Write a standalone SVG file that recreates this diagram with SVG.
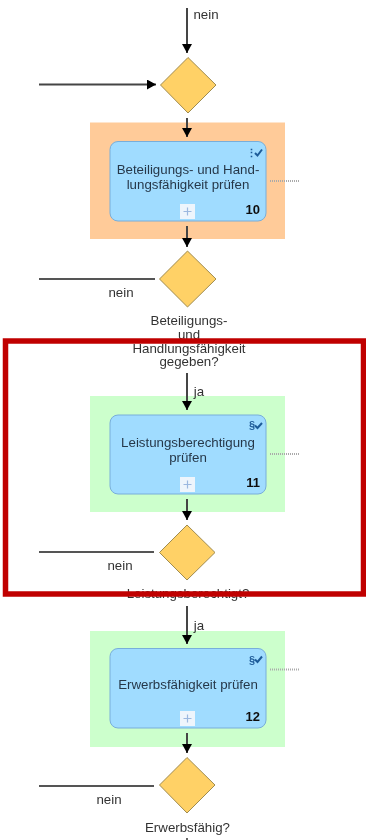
<svg xmlns="http://www.w3.org/2000/svg" width="366" height="840" viewBox="0 0 366 840">
<style>
text{font-family:"Liberation Sans",Arial,sans-serif;font-size:13.300px;fill:#333;text-anchor:middle}
.t{fill:#26384a}
.n{font-weight:bold;font-size:13px;fill:#111;text-anchor:end}
.c{fill:none;stroke:#444;stroke-width:2;marker-end:url(#a)}
.l{fill:none;stroke:#555;stroke-width:1.800}
.d{fill:#ffd166;stroke:#a08c50;stroke-width:1}
.task{fill:#a0dcff;stroke:#78aeda;stroke-width:1}
.o{fill:#ffcb99}.g{fill:#ccffcc}
.p{fill:#eef5fc}
.pl{stroke:#9cb8e0;stroke-width:1.200;fill:none}
.dots{stroke:#aaa;stroke-width:1.800;stroke-dasharray:1 1;fill:none}
.i{fill:#1f5c99;font-size:11px;font-weight:bold}
.ck{fill:none;stroke:#1f5c99;stroke-width:2}
</style>
<defs>
<marker id="a" markerUnits="userSpaceOnUse" markerWidth="10" markerHeight="10" refX="9" refY="5" orient="auto"><path d="M0,0L9,5L0,10Z" fill="#000"/></marker>
<filter id="b" x="0" y="0" width="100%" height="100%"><feGaussianBlur stdDeviation="0.45"/></filter>
</defs>
<g filter="url(#b)">
<rect width="366" height="840" fill="#fff"/>
<g id="lane-10"><rect class="o" x="90" y="122.500" width="195" height="116.500"/></g>
<g id="lane-11"><rect class="g" x="90" y="396" width="195" height="116"/></g>
<g id="lane-12"><rect class="g" x="90" y="631" width="195" height="116"/></g>
<g id="connectors">
<path class="c" d="M187 8V53"/>
<path class="c" d="M39 84.500H156"/>
<path class="c" d="M187 118V137"/>
<path class="c" d="M187 226V247"/>
<path class="l" d="M39 279H155"/>
<path class="c" d="M187 373V410"/>
<path class="c" d="M187 499V520"/>
<path class="l" d="M39 552H154"/>
<path class="c" d="M187 606V644"/>
<path class="c" d="M187 733V753"/>
<path class="l" d="M39 786H154"/>
<path class="l" d="M187 838V840"/>
<path class="dots" d="M270 181H300M270 454H300M270 669.500H300"/>
</g>
<g id="labels">
<text x="206" y="19">nein</text>
<text x="121" y="297">nein</text>
<text x="199" y="396">ja</text>
<text x="120" y="570">nein</text>
<text x="199" y="630">ja</text>
<text x="109" y="804">nein</text>
</g>
<g id="gw1"><path class="d" d="M188 57.500L216 85L188 113L160.500 85Z"/></g>
<g id="task10">
<rect class="task" x="110" y="141.500" width="156" height="79.500" rx="8"/>
<text class="t"><tspan x="188" y="174">Beteiligungs- und Hand-</tspan><tspan x="188" y="189">lungsfähigkeit prüfen</tspan></text>
<text class="i" x="251" y="157">⋮</text><path class="ck" d="M255 153L257.500 155.500L262 149.500"/>
<rect class="p" x="180" y="204" width="15" height="15"/><path class="pl" d="M187.500 207.500V215.500M183.500 211.500H191.500"/>
<text class="n" x="260" y="214">10</text>
</g>
<g id="gw2">
<path class="d" d="M187.500 251L216 279L187.500 307L159.500 279Z"/>
<text><tspan x="189" y="324.800">Beteiligungs-</tspan><tspan x="189" y="338.500">und</tspan><tspan x="189" y="352.500">Handlungsfähigkeit</tspan><tspan x="189" y="366">gegeben?</tspan></text>
</g>
<g id="task11">
<rect class="task" x="110" y="415" width="156" height="79" rx="8"/>
<text class="t"><tspan x="188" y="447">Leistungsberechtigung</tspan><tspan x="188" y="462">prüfen</tspan></text>
<text class="i" x="252" y="429">§</text><path class="ck" d="M255 425.500L257.500 428L262 423"/>
<rect class="p" x="180" y="477" width="15" height="15"/><path class="pl" d="M187.500 480.500V488.500M183.500 484.500H191.500"/>
<text class="n" x="260" y="487">11</text>
</g>
<g id="gw3">
<path class="d" d="M187 525L215 552.500L187 580L159.500 552.500Z"/>
<text x="188" y="598">Leistungsberechtigt?</text>
</g>
<g id="task12">
<rect class="task" x="110" y="648.500" width="156" height="79.500" rx="8"/>
<text class="t" x="188" y="689">Erwerbsfähigkeit prüfen</text>
<text class="i" x="252" y="664">§</text><path class="ck" d="M255 659.500L257.500 662L262 656.500"/>
<rect class="p" x="180" y="711" width="15" height="15"/><path class="pl" d="M187.500 714.500V722.500M183.500 718.500H191.500"/>
<text class="n" x="260" y="721">12</text>
</g>
<g id="gw4">
<path class="d" d="M187 757.500L215 785L187 813L159.500 785Z"/>
<text x="187.500" y="832">Erwerbsfähig?</text>
</g>
<rect id="highlight" x="5.500" y="341" width="358" height="253" fill="none" stroke="#c00000" stroke-width="5.500"/>
</g>
</svg>
